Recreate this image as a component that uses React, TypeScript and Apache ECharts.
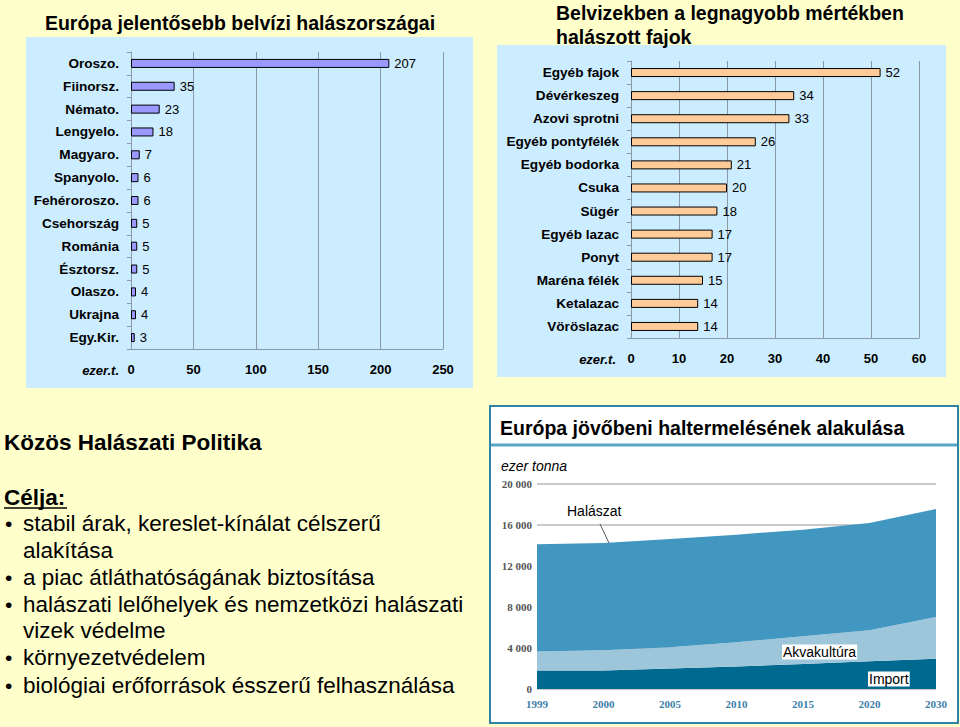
import React, { useEffect, useRef } from "react";
import * as echarts from "echarts";

const countries = ["Oroszo.", "Fiinorsz.", "Némato.", "Lengyelo.", "Magyaro.", "Spanyolo.", "Fehéroroszo.", "Csehország", "Románia", "Észtorsz.", "Olaszo.", "Ukrajna", "Egy.Kir."];
const countryValues = [207, 35, 23, 18, 7, 6, 6, 5, 5, 5, 4, 4, 3];

const species = ["Egyéb fajok", "Dévérkeszeg", "Azovi sprotni", "Egyéb pontyfélék", "Egyéb bodorka", "Csuka", "Sügér", "Egyéb lazac", "Ponyt", "Maréna félék", "Ketalazac", "Vöröslazac"];
const speciesValues = [52, 34, 33, 26, 21, 20, 18, 17, 17, 15, 14, 14];

const years = ["1999", "2000", "2005", "2010", "2015", "2020", "2030"];
const importVals = [1800, 1800, 2000, 2200, 2450, 2700, 2950];
const aquaVals = [1870, 1970, 2070, 2350, 2690, 3020, 4070];
const fishVals = [10440, 10470, 10560, 10510, 10400, 10480, 10540];

const bullets = [
  "stabil árak, kereslet-kínálat célszerű",
  "alakítása",
  "a piac átláthatóságának biztosítása",
  "halászati lelőhelyek és nemzetközi halászati",
  "vizek védelme",
  "környezetvédelem",
  "biológiai erőforrások ésszerű felhasználása",
];
const bulletMarks = [true, false, true, true, false, true, true];

const FONT = "Liberation Sans";

export default function App() {
  const ref = useRef<HTMLDivElement>(null);
  useEffect(() => {
    if (!ref.current) return;
    const chart = echarts.init(ref.current, null, { renderer: "svg" });
    const gridGray = "#8a9aa6";
    const bulletY = [523, 550, 577, 604, 630, 657, 685];
    const textEls: any[] = [];
    bullets.forEach((t, i) => {
      if (bulletMarks[i]) {
        textEls.push({ type: "text", x: 5, y: bulletY[i], z: 100, style: { text: "•", fontSize: 21, fontFamily: FONT, fill: "#000", verticalAlign: "middle" } });
      }
      textEls.push({ type: "text", x: 23, y: bulletY[i], z: 100, style: { text: t, fontSize: 22.5, fontFamily: FONT, fill: "#000", verticalAlign: "middle" } });
    });
    const option: any = {
      animation: false,
      backgroundColor: "#FFFFCC",
      graphic: {
        elements: [
          { type: "rect", z: -10, shape: { x: 26, y: 37, width: 447, height: 351 }, style: { fill: "#CCECFF" } },
          { type: "rect", z: -10, shape: { x: 497, y: 45, width: 449, height: 332 }, style: { fill: "#CCECFF" } },
          { type: "rect", z: -10, shape: { x: 490, y: 406, width: 468, height: 317 }, style: { fill: "#ffffff", stroke: "#2e84a6", lineWidth: 2 } },
          { type: "line", z: -9, shape: { x1: 491, y1: 445, x2: 957, y2: 445 }, style: { stroke: "#5aa5c8", lineWidth: 3 } },
          { type: "text", x: 240, y: 23, z: 100, style: { text: "Európa jelentősebb belvízi halászországai", fontSize: 19.5, fontWeight: "bold", fontFamily: FONT, fill: "#000", align: "center", verticalAlign: "middle" } },
          { type: "text", x: 556, y: 13, z: 100, style: { text: "Belvizekben a legnagyobb mértékben", fontSize: 19.5, fontWeight: "bold", fontFamily: FONT, fill: "#000", verticalAlign: "middle" } },
          { type: "text", x: 556, y: 37, z: 100, style: { text: "halászott fajok", fontSize: 19.5, fontWeight: "bold", fontFamily: FONT, fill: "#000", verticalAlign: "middle" } },
          { type: "text", x: 119, y: 370, z: 100, style: { text: "ezer.t.", fontSize: 13, fontWeight: "bold", fontStyle: "italic", fontFamily: FONT, fill: "#000", align: "right", verticalAlign: "middle" } },
          { type: "text", x: 616, y: 359, z: 100, style: { text: "ezer.t.", fontSize: 13, fontWeight: "bold", fontStyle: "italic", fontFamily: FONT, fill: "#000", align: "right", verticalAlign: "middle" } },
          { type: "text", x: 500, y: 428, z: 100, style: { text: "Európa jövőbeni haltermelésének alakulása", fontSize: 19.5, fontWeight: "bold", fontFamily: FONT, fill: "#000", verticalAlign: "middle" } },
          { type: "text", x: 501, y: 466, z: 100, style: { text: "ezer tonna", fontSize: 14, fontStyle: "italic", fontFamily: FONT, fill: "#000", verticalAlign: "middle" } },
          { type: "text", x: 567, y: 511, z: 100, style: { text: "Halászat", fontSize: 14, fontFamily: FONT, fill: "#000", verticalAlign: "middle" } },
          { type: "line", z: 100, shape: { x1: 600, y1: 524, x2: 609, y2: 543 }, style: { stroke: "#555", lineWidth: 1 } },
          { type: "text", x: 782, y: 652, z: 100, style: { text: "Akvakultúra", fontSize: 14, fontFamily: FONT, fill: "#000", verticalAlign: "middle", backgroundColor: "#fff", padding: [1, 1, 0, 1] } },
          { type: "text", x: 868, y: 679, z: 100, style: { text: "Import", fontSize: 14, fontFamily: FONT, fill: "#000", verticalAlign: "middle", backgroundColor: "#fff", padding: [1, 1, 0, 1] } },
          { type: "text", x: 4, y: 442, z: 100, style: { text: "Közös Halászati Politika", fontSize: 22.5, fontWeight: "bold", fontFamily: FONT, fill: "#000", verticalAlign: "middle" } },
          { type: "text", x: 4, y: 497, z: 100, style: { text: "Célja:", fontSize: 22.5, fontWeight: "bold", fontFamily: FONT, fill: "#000", verticalAlign: "middle" } },
          { type: "line", z: 100, shape: { x1: 4, y1: 508, x2: 67, y2: 508 }, style: { stroke: "#000", lineWidth: 1.5 } },
          ...textEls,
        ],
      },
      grid: [
        { left: 131, right: 517, top: 52, bottom: 378 },
        { left: 631, right: 41, top: 61, bottom: 389 },
        { left: 537, right: 24, top: 484, bottom: 38 },
      ],
      xAxis: [
        {
          gridIndex: 0, type: "value", min: 0, max: 250, interval: 50,
          axisLine: { show: true, lineStyle: { color: gridGray } },
          axisTick: { show: false },
          splitLine: { show: true, lineStyle: { color: gridGray } },
          axisLabel: { color: "#000", fontSize: 13, fontWeight: "bold", fontFamily: FONT, margin: 14 },
        },
        {
          gridIndex: 1, type: "value", min: 0, max: 60, interval: 10,
          axisLine: { show: true, lineStyle: { color: gridGray } },
          axisTick: { show: false },
          splitLine: { show: true, lineStyle: { color: gridGray } },
          axisLabel: { color: "#000", fontSize: 13, fontWeight: "bold", fontFamily: FONT, margin: 14 },
        },
        {
          gridIndex: 2, type: "category", data: years, boundaryGap: false,
          axisLine: { show: false }, axisTick: { show: false },
          axisLabel: { color: "#3d80a8", fontSize: 11, fontWeight: "bold", fontFamily: "Liberation Serif", margin: 9 },
        },
      ],
      yAxis: [
        {
          gridIndex: 0, type: "category", data: countries, inverse: true,
          axisLine: { show: true, lineStyle: { color: gridGray } },
          axisTick: { show: true, length: 4, lineStyle: { color: gridGray } },
          axisLabel: { color: "#000", fontSize: 13.6, fontWeight: "bold", fontFamily: FONT, margin: 12 },
        },
        {
          gridIndex: 1, type: "category", data: species, inverse: true,
          axisLine: { show: true, lineStyle: { color: gridGray } },
          axisTick: { show: true, length: 4, lineStyle: { color: gridGray } },
          axisLabel: { color: "#000", fontSize: 13.6, fontWeight: "bold", fontFamily: FONT, margin: 12 },
        },
        {
          gridIndex: 2, type: "value", min: 0, max: 20000, interval: 4000,
          axisLine: { show: false }, axisTick: { show: false },
          splitLine: { show: true, lineStyle: { color: "#b8b8b8", width: 1.5 } },
          axisLabel: {
            color: "#555", fontSize: 11, fontWeight: "bold", fontFamily: "Liberation Serif", margin: 5,
            formatter: (v: number) => (v === 0 ? "0" : `${v / 1000} 000`),
          },
        },
      ],
      series: [
        {
          type: "bar", xAxisIndex: 0, yAxisIndex: 0, data: countryValues, barWidth: 9,
          itemStyle: { color: "#9999FF", borderColor: "#000", borderWidth: 1 },
          label: { show: true, position: "right", distance: 5, color: "#000", fontSize: 13, fontFamily: FONT },
        },
        {
          type: "bar", xAxisIndex: 1, yAxisIndex: 1, data: speciesValues, barWidth: 9,
          itemStyle: { color: "#FFCC99", borderColor: "#000", borderWidth: 1 },
          label: { show: true, position: "right", distance: 5, color: "#000", fontSize: 13, fontFamily: FONT },
        },
        {
          name: "Import", type: "line", xAxisIndex: 2, yAxisIndex: 2, stack: "total", data: importVals,
          symbol: "none", lineStyle: { width: 0 }, areaStyle: { color: "#00698f", opacity: 1 },
        },
        {
          name: "Akvakultúra", type: "line", xAxisIndex: 2, yAxisIndex: 2, stack: "total", data: aquaVals,
          symbol: "none", lineStyle: { width: 0 }, areaStyle: { color: "#9ec6da", opacity: 1 },
        },
        {
          name: "Halászat", type: "line", xAxisIndex: 2, yAxisIndex: 2, stack: "total", data: fishVals,
          symbol: "none", lineStyle: { width: 0 }, areaStyle: { color: "#4297c0", opacity: 1 },
        },
      ],
    };
    chart.setOption(option);
    return () => chart.dispose();
  }, []);
  return <div ref={ref} style={{ position: "absolute", left: 0, top: 0, width: 960, height: 727 }} />;
}
